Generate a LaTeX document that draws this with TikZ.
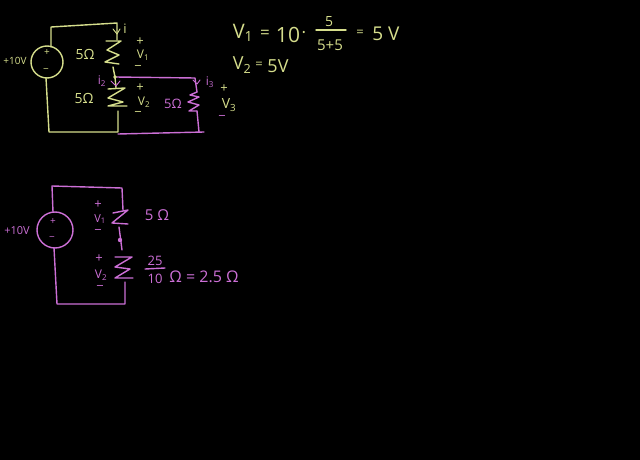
\documentclass[tikz,border=0pt]{standalone}
\usepackage{fontspec}
\setmainfont{Open Sans}
\definecolor{chalkyellow}{HTML}{D6DE8C}
\definecolor{chalkpink}{HTML}{CC6FD6}
\tikzset{
  ywire/.style={chalkyellow, line width=1.4pt, line join=round, line cap=round},
  pwire/.style={chalkpink, line width=1.4pt, line join=round, line cap=round},
  fsize/.style={font=\fontsize{#1}{#1}\selectfont},
  ytext/.style={chalkyellow, inner sep=0pt, fsize=13},
  ptext/.style={chalkpink, inner sep=0pt, fsize=13}
}
\begin{document}
\begin{tikzpicture}[x=1pt,y=-1pt]
    \fill [black] (0,0) rectangle (640,460) ;
    \useasboundingbox (0,0) rectangle (640,460) ;
    % top circuit
    \draw [ywire] (47,62) circle [radius=16] ;
    \draw [ywire] (51,47) -- (51,27) -- (117,23) -- (117,40) ;
    \draw [ywire] (106,41) -- (121,41) -- (107,50) -- (119,55) -- (105,62) -- (119,64) ;
    \draw [ywire] (113,67) -- (115,77) -- (116,88) ;
    \draw [ywire] (108,89) -- (125,88) -- (108,98) -- (123,102) -- (108,106) -- (127,106) ;
    \draw [ywire] (118,111) -- (118,132) -- (49,132) -- (46,78) ;
    \draw [pwire] (115,77) -- (195,78) -- (197,92) ;
    \draw [pwire] (197,92) -- (190,95) -- (199,97) -- (188,102) -- (199,105) -- (189,111) -- (197,111) ;
    \draw [pwire] (197,111) -- (199,132) ;
    \draw [pwire] (118,134) -- (204,132) ;
    \draw [ywire, line width=0.9pt] (113,29) -- (117,34) -- (120,29) ;
    \draw [pwire, line width=0.9pt] (111,81) -- (116,86) -- (120,81) ;
    \draw [pwire, line width=0.9pt] (193,80) -- (197,84) -- (200,80) ;
    \fill [chalkyellow] (115,77) circle [radius=1.8] ;
    \node [ytext, fsize=10] (srcA) at (15,61) {+10V} ;
    \node [ytext, fsize=10] (srcAp) at (47,53) {+} ;
    \node [ytext, fsize=10] (srcAm) at (46,71) {−} ;
    \node [ytext, fsize=14] (rOne) at (85,54) {5Ω} ;
    \node [ytext, fsize=14] (rTwo) at (84,98) {5Ω} ;
    \node [ptext] (rThree) at (173,104) {5Ω} ;
    \node [ytext] (curI) at (125,29) {i} ;
    \node [ptext, fsize=12] (curItwo) at (102,81) {i\textsubscript{2}} ;
    \node [ptext, fsize=12] (curIthree) at (210,82) {i\textsubscript{3}} ;
    \node [ytext] (pOne) at (140,42) {+} ;
    \node [ytext, fsize=12] (vOne) at (143,55) {V\textsubscript{1}} ;
    \node [ytext] (mOne) at (138,68) {−} ;
    \node [ytext] (pTwo) at (140,88) {+} ;
    \node [ytext, fsize=12] (vTwo) at (144,102) {V\textsubscript{2}} ;
    \node [ytext] (mTwo) at (138,114) {−} ;
    \node [ytext] (pThree) at (224,89) {+} ;
    \node [ytext, fsize=14] (vThree) at (229,105) {V\textsubscript{3}} ;
    \node [ptext] (mThree) at (222,118) {−} ;
    % bottom circuit
    \draw [pwire] (55,230) circle [radius=18] ;
    \draw [pwire] (53,212) -- (52,186) -- (122,188) -- (123,210) ;
    \draw [pwire] (113,213) -- (128,210) -- (112,223) -- (128,224) ;
    \draw [pwire] (119,227) -- (122,250) ;
    \draw [pwire] (115,257) -- (132,257) -- (115,267) -- (130,269) -- (115,278) -- (133,278) ;
    \draw [pwire] (125,282) -- (125,304) -- (57,304) -- (54,248) ;
    \fill [chalkpink] (120,240) circle [radius=2.2] ;
    \node [ptext, fsize=11] (srcB) at (17,231) {+10V} ;
    \node [ptext, fsize=10] (srcBp) at (53,222) {+} ;
    \node [ptext, fsize=10] (srcBm) at (52,239) {−} ;
    \node [ptext] (pFour) at (98,205) {+} ;
    \node [ptext, fsize=11] (vFour) at (100,219) {V\textsubscript{1}} ;
    \node [ptext] (mFour) at (98,232) {−} ;
    \node [ptext] (pFive) at (99,259) {+} ;
    \node [ptext, fsize=12] (vFive) at (101,275) {V\textsubscript{2}} ;
    \node [ptext] (mFive) at (100,288) {−} ;
    \node [ptext, fsize=15] (rFour) at (157,215) {5 Ω} ;
    \node [ptext] (numB) at (155,261) {25} ;
    \draw [pwire] (145,269) -- (165,268) ;
    \node [ptext] (denB) at (155,279) {10} ;
    \node [ptext, fsize=16] (parB) at (204,277) {Ω = 2.5 Ω} ;
    % equations
    \node [ytext, fsize=20] (eqVone) at (243,33) {V\textsubscript{1}} ;
    \node [ytext, fsize=17] (eqEq) at (265,34) {=} ;
    \node [ytext, fsize=21] (eqTen) at (288,35) {10} ;
    \node [ytext, fsize=17] (eqDot) at (304,35) {·} ;
    \node [ytext, fsize=14] (eqNum) at (329,22) {5} ;
    \draw [ywire] (316,30) -- (346,30) ;
    \node [ytext, fsize=15] (eqDen) at (330,45) {5+5} ;
    \node [ytext] (eqEqb) at (360,33) {=} ;
    \node [ytext, fsize=19] (eqRes) at (386,34) {5 V} ;
    \node [ytext, fsize=18] (eqVtwo) at (242,65) {V\textsubscript{2}} ;
    \node [ytext] (eqEqc) at (259,65) {=} ;
    \node [ytext, fsize=18] (eqResb) at (278,66) {5V} ;
\end{tikzpicture}
\end{document}
